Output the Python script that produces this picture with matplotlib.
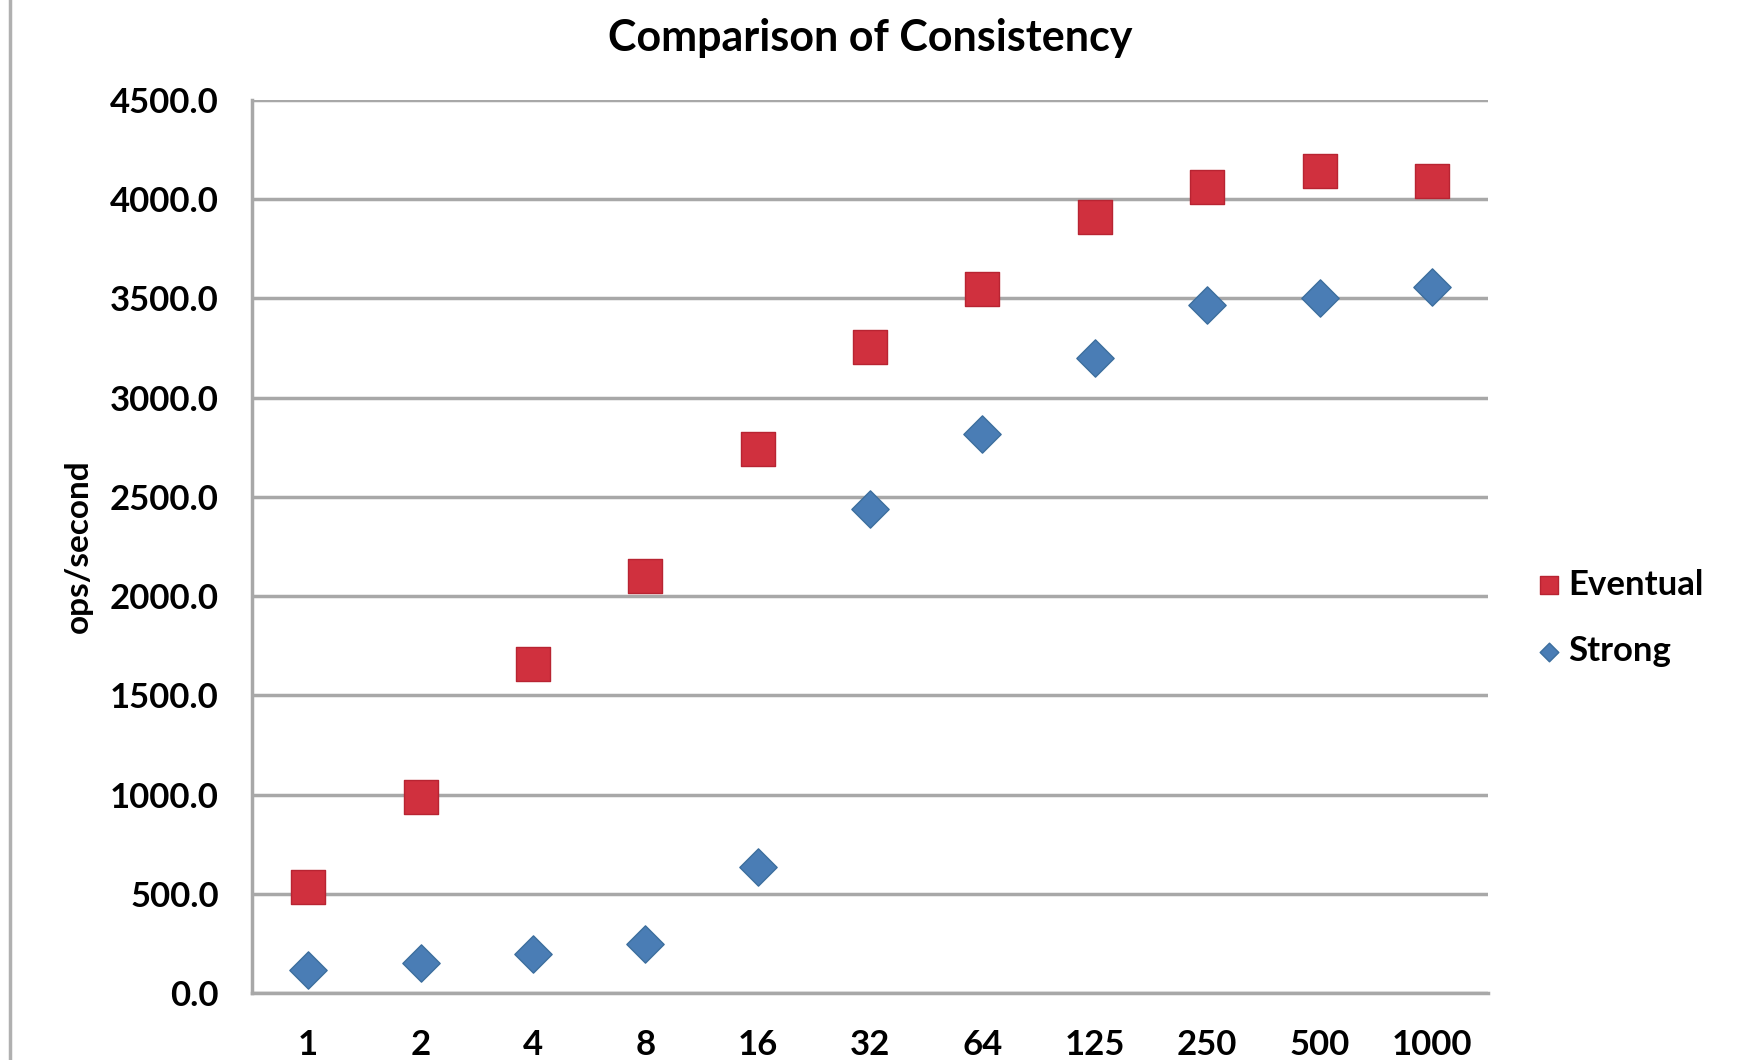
import matplotlib.pyplot as plt

plt.rcParams['font.family'] = ['Lato', 'DejaVu Sans']

clients = ["1", "2", "4", "8", "16", "32", "64", "125", "250", "500", "1000"]
eventual = [534, 989, 1657, 2101, 2742, 3253, 3545, 3910, 4062, 4140, 4090]
strong = [118, 152, 197, 247, 635, 2438, 2815, 3202, 3466, 3500, 3556]

fig = plt.figure(figsize=(17.48, 10.6), dpi=100)
ax = fig.add_axes([0.1442, 0.0632, 0.7071, 0.8425])

x = range(len(clients))
ax.scatter(x, eventual, marker="s", s=620, color="#d0303e", edgecolor="#b82432",
           linewidth=1, label="Eventual", zorder=3)
ax.scatter(x, strong, marker="D", s=360, color="#4a7db5", edgecolor="#3c6e9e",
           linewidth=1, label="Strong", zorder=3)

ax.set_xlim(-0.5, len(clients) - 0.5)
ax.set_ylim(0, 4500)
ax.set_yticks(range(0, 4501, 500))
ax.set_yticklabels([f"{v:.1f}" for v in range(0, 4501, 500)])
ax.set_xticks(list(x))
ax.set_xticklabels(clients)

ax.grid(axis="y", color="#a8a8a8", linewidth=2.5)
ax.set_axisbelow(True)
for side in ["top", "right"]:
    ax.spines[side].set_visible(False)
ax.spines["left"].set_color("#a8a8a8")
ax.spines["left"].set_linewidth(2.5)
ax.spines["bottom"].set_color("#a8a8a8")
ax.spines["bottom"].set_linewidth(2.5)
ax.tick_params(axis="y", length=0, labelsize=25, pad=24)
ax.tick_params(axis="x", length=0, labelsize=25, pad=26)
for lbl in ax.get_xticklabels() + ax.get_yticklabels():
    lbl.set_fontweight("bold")

ax.set_ylabel("ops/second", fontsize=24, fontweight="bold", labelpad=12)
ax.set_title("Comparison of Consistency", fontsize=31, fontweight="bold", pad=35)

ax.legend(loc="center left", bbox_to_anchor=(1.01, 0.42), frameon=False,
          prop={"weight": "bold", "size": 25}, markerscale=0.5,
          handletextpad=0.05, labelspacing=1.0, handlelength=1.0)

# outer frame edge on the left
fig.add_artist(plt.Line2D([0.006, 0.006], [0.0, 1.0], color="#b0b0b0", linewidth=2.5))

fig.savefig("out.png", dpi=100, facecolor="white")
